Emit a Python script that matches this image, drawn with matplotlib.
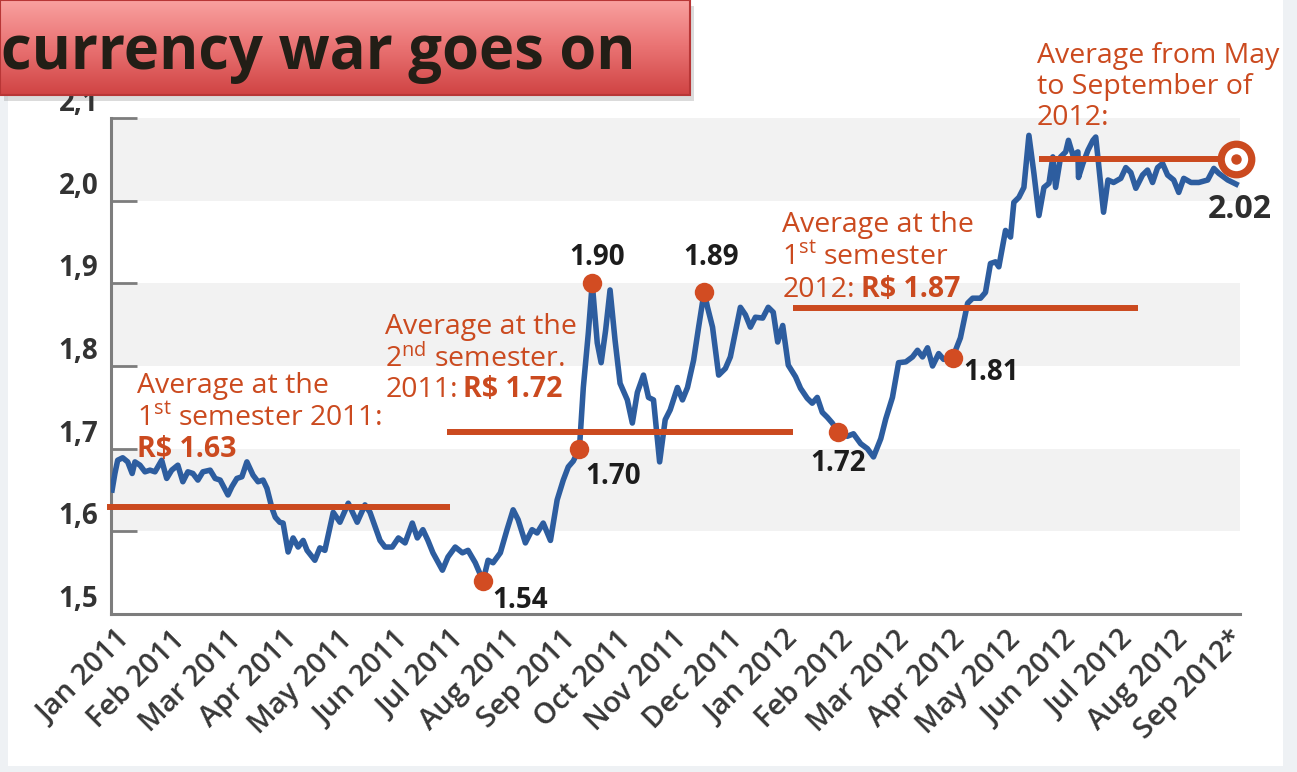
import numpy as np
import matplotlib
matplotlib.use('Agg')
import matplotlib.pyplot as plt
from matplotlib.patches import Rectangle
from matplotlib.colors import LinearSegmentedColormap

plt.rcParams['font.family'] = ['Open Sans', 'DejaVu Sans']
plt.rcParams['mathtext.fontset'] = 'custom'
plt.rcParams['mathtext.rm'] = 'Open Sans'
plt.rcParams['mathtext.it'] = 'Open Sans:italic'
plt.rcParams['mathtext.bf'] = 'Open Sans:bold'

# x = months since Jan 2011, y = R$ per US$
months = [
    -0.05, 0.00, 0.05, 0.14, 0.23, 0.31, 0.36, 0.45, 0.54, 0.63,
    0.72, 0.84, 0.93, 1.02, 1.13, 1.22, 1.31, 1.40, 1.49, 1.58,
    1.71, 1.80, 1.89, 2.03, 2.10, 2.19, 2.28, 2.37, 2.48, 2.57,
    2.66, 2.73, 2.82, 2.88, 2.96, 3.02, 3.11, 3.20, 3.29, 3.38,
    3.45, 3.59, 3.68, 3.77, 3.92, 4.04, 4.19, 4.35, 4.49, 4.58,
    4.76, 4.85, 4.98, 5.09, 5.21, 5.34, 5.43, 5.53, 5.62, 5.71,
    5.88, 5.98, 6.11, 6.24, 6.34, 6.47, 6.61, 6.70, 6.79, 6.92,
    7.04, 7.15, 7.24, 7.37, 7.49, 7.58, 7.69, 7.82, 7.94, 8.05,
    8.14, 8.23, 8.34, 8.41, 8.50, 8.57, 8.66, 8.73, 8.81, 8.89,
    8.98, 9.07, 9.20, 9.29, 9.38, 9.49, 9.58, 9.67, 9.78, 9.88,
    9.97, 10.10, 10.19, 10.28, 10.39, 10.48, 10.58, 10.64, 10.73, 10.84,
    10.96, 11.05, 11.11, 11.23, 11.32, 11.41, 11.50, 11.63, 11.73, 11.82,
    11.90, 11.99, 12.09, 12.22, 12.31, 12.43, 12.52, 12.61, 12.70, 12.79,
    12.88, 12.99, 13.15, 13.26, 13.39, 13.51, 13.62, 13.75, 13.84, 13.96,
    14.07, 14.20, 14.32, 14.41, 14.50, 14.59, 14.68, 14.79, 14.88, 15.04,
    15.18, 15.31, 15.40, 15.54, 15.63, 15.72, 15.81, 15.87, 15.94, 15.99,
    16.08, 16.14, 16.23, 16.32, 16.41, 16.50, 16.59, 16.68, 16.77, 16.84,
    16.89, 16.98, 17.07, 17.12, 17.20, 17.29, 17.30, 17.38, 17.47, 17.56,
    17.61, 17.66, 17.75, 17.83, 17.93, 18.06, 18.15, 18.24, 18.33, 18.45,
    18.54, 18.63, 18.72, 18.81, 18.90, 19.01, 19.10, 19.19, 19.32, 19.46,
    19.62, 19.73, 19.82, 19.98, 20.13,
]
usd_brl = [
    1.650, 1.670, 1.686, 1.689, 1.684, 1.670, 1.684, 1.680, 1.672, 1.674,
    1.672, 1.686, 1.664, 1.674, 1.680, 1.660, 1.672, 1.670, 1.662, 1.672,
    1.674, 1.664, 1.662, 1.644, 1.654, 1.664, 1.666, 1.684, 1.668, 1.660,
    1.662, 1.652, 1.628, 1.617, 1.611, 1.610, 1.575, 1.592, 1.581, 1.589,
    1.577, 1.565, 1.580, 1.577, 1.623, 1.611, 1.634, 1.611, 1.632, 1.623,
    1.589, 1.581, 1.581, 1.592, 1.586, 1.610, 1.592, 1.602, 1.589, 1.574,
    1.553, 1.569, 1.581, 1.574, 1.577, 1.562, 1.540, 1.565, 1.562, 1.574,
    1.602, 1.626, 1.614, 1.586, 1.602, 1.598, 1.610, 1.589, 1.638, 1.662,
    1.678, 1.685, 1.700, 1.774, 1.840, 1.900, 1.828, 1.804, 1.843, 1.892,
    1.831, 1.779, 1.759, 1.731, 1.768, 1.789, 1.762, 1.759, 1.684, 1.735,
    1.747, 1.774, 1.759, 1.774, 1.807, 1.847, 1.890, 1.871, 1.847, 1.789,
    1.797, 1.811, 1.831, 1.871, 1.862, 1.847, 1.859, 1.858, 1.871, 1.865,
    1.829, 1.849, 1.801, 1.787, 1.773, 1.761, 1.755, 1.762, 1.744, 1.738,
    1.731, 1.720, 1.715, 1.718, 1.706, 1.700, 1.690, 1.712, 1.736, 1.762,
    1.804, 1.805, 1.811, 1.819, 1.811, 1.822, 1.800, 1.815, 1.808, 1.810,
    1.834, 1.876, 1.882, 1.882, 1.889, 1.924, 1.926, 1.920, 1.946, 1.964,
    1.956, 1.998, 2.004, 2.016, 2.079, 2.033, 1.982, 2.016, 2.021, 2.053,
    2.016, 2.053, 2.059, 2.073, 2.055, 2.059, 2.028, 2.045, 2.061, 2.073,
    2.077, 2.045, 1.986, 2.025, 2.022, 2.027, 2.040, 2.034, 2.015, 2.031,
    2.037, 2.022, 2.040, 2.045, 2.031, 2.025, 2.010, 2.027, 2.022, 2.022,
    2.025, 2.039, 2.033, 2.025, 2.020,
]

month_labels = ['Jan 2011', 'Feb 2011', 'Mar 2011', 'Apr 2011', 'May 2011', 'Jun 2011',
                'Jul 2011', 'Aug 2011', 'Sep 2011', 'Oct 2011', 'Nov 2011', 'Dec 2011',
                'Jan 2012', 'Feb 2012', 'Mar 2012', 'Apr 2012', 'May 2012', 'Jun 2012',
                'Jul 2012', 'Aug 2012', 'Sep 2012*']
y_ticks = [1.5, 1.6, 1.7, 1.8, 1.9, 2.0, 2.1]
y_tick_labels = ['1,5', '1,6', '1,7', '1,8', '1,9', '2,0', '2,1']

# highlighted lows/highs and where their numbers sit
mark_months = [6.61, 8.34, 8.57, 10.58, 12.99, 15.04]
mark_values = [1.54, 1.70, 1.90, 1.89, 1.72, 1.81]
mark_label_x = [6.77, 8.45, 8.16, 10.21, 12.49, 15.24]
mark_label_y = [1.507, 1.657, 1.922, 1.922, 1.673, 1.783]

# period averages
avg_starts = [-0.14, 5.97, 12.18, 16.59]
avg_ends = [6.02, 12.17, 18.36, 20.13]
avg_values = [1.63, 1.72, 1.87, 2.05]

BLUE = '#2d5d9f'
ORANGE = '#cb4a1f'
DOT = '#d24c22'
DARK = '#1c1c1c'
GREY = '#7d7d7d'

W, H = 1297, 772
fig = plt.figure(figsize=(W / 100, H / 100), dpi=100)
fig.patch.set_facecolor('#eef1f4')
fig.patches.append(Rectangle((8 / W, 6 / H), 1275 / W, 1 - 6 / H, transform=fig.transFigure,
                             facecolor='white', edgecolor='none', zorder=-10))

ax = fig.add_axes([111 / W, (H - 614) / H, 1129 / W, 496 / H])
ax.set_facecolor('none')
ax.set_xlim(-0.07, 20.2)
ax.set_ylim(1.5, 2.1)

for lo in (1.6, 1.8, 2.0):
    ax.axhspan(lo, lo + 0.1, color='#f2f2f2', lw=0, zorder=0)

ax.plot(months, usd_brl, color=BLUE, lw=4, solid_joinstyle='round', zorder=3)
ax.hlines(avg_values, avg_starts, avg_ends, color=ORANGE, lw=4.3, zorder=4, clip_on=False)
ax.scatter(mark_months, mark_values, s=14 ** 2, color=DOT, lw=0, zorder=5, clip_on=False)
for x, y, v in zip(mark_label_x, mark_label_y, mark_values):
    ax.text(x, y, f'{v:.2f}', fontsize=20, fontweight='bold', color=DARK,
            ha='left', va='baseline', zorder=6)

# target marker at the end of the May-Sep average
ax.plot([avg_ends[3]], [avg_values[3]], 'o', ms=22, mfc='white', mec=ORANGE, mew=5.2,
        zorder=6, clip_on=False)
ax.plot([avg_ends[3]], [avg_values[3]], 'o', ms=6.5, color=ORANGE, zorder=7, clip_on=False)
ax.text(19.62, 1.979, f'{usd_brl[-1]:.2f}', fontsize=23, fontweight='bold', color='#2e2e2e',
        ha='left', va='baseline', zorder=6)


def note(x, ys, lines, tail=None):
    t = None
    for y, s in zip(ys, lines):
        t = ax.text(x, y, s, fontsize=20.5, color=ORANGE, ha='left', va='baseline', zorder=6)
    if tail:
        ax.annotate(tail, xy=(1, 0), xycoords=t, xytext=(4, 0), textcoords='offset points',
                    fontsize=20.5, fontweight='bold', color=ORANGE, ha='left', va='bottom')


note(0.395, [1.7672, 1.7273], ['Average at the', r'1$^{\mathrm{st}}$ semester 2011:'])
ax.text(0.395, 1.6898, 'R$ 1.63', fontsize=20.5, fontweight='bold', color=ORANGE,
        ha='left', va='baseline', zorder=6)
note(4.852, [1.8386, 1.7987, 1.7624],
     ['Average at the', r'2$^{\mathrm{nd}}$ semester.', '2011:'], tail='R$ 1.72')
note(11.986, [1.9619, 1.9220, 1.8833],
     ['Average at the', r'1$^{\mathrm{st}}$ semester', '2012:'], tail='R$ 1.87')
note(16.55, [2.1663, 2.1288, 2.0913], ['Average from May', 'to September of', '2012:'])

# axes styling
for side in ('top', 'right'):
    ax.spines[side].set_visible(False)
for side in ('left', 'bottom'):
    ax.spines[side].set_color(GREY)
    ax.spines[side].set_linewidth(2.2)

ax.set_yticks(y_ticks)
ax.set_yticklabels(y_tick_labels, fontsize=20, fontweight='bold', color='#333333')
ax.tick_params(axis='y', direction='in', length=19, width=2, color=GREY, pad=9)
for lab in ax.get_yticklabels():
    lab.set_verticalalignment('bottom')

ax.set_xticks(range(len(month_labels)))
ax.set_xticklabels(month_labels, fontsize=21, fontweight='semibold', color='#383838',
                   rotation=45, ha='right', rotation_mode='anchor', va='top')
ax.tick_params(axis='x', length=0, pad=8)

# title banner
tax = fig.add_axes([0, 1 - 95 / H, 690 / W, 95 / H])
tax.set_zorder(5)
cmap = LinearSegmentedColormap.from_list('banner', ['#f9a09f', '#e97272', '#d04444'])
tax.imshow(np.linspace(0, 1, 100).reshape(-1, 1), aspect='auto', cmap=cmap,
           extent=[0, 1, 0, 1])
tax.set_xlim(0, 1)
tax.set_ylim(0, 1)
tax.axis('off')
tax.add_patch(Rectangle((0, 0), 1, 1, transform=tax.transAxes, fill=False,
                        edgecolor='#b83636', lw=1.5, clip_on=False))
fig.patches.append(Rectangle((4 / W, 1 - 101 / H), 690 / W, 95 / H, transform=fig.transFigure,
                             facecolor='#9a9a9a', alpha=0.35, edgecolor='none', zorder=-1))
tax.text(0.002, 0.27, 'currency war goes on', transform=tax.transAxes, fontsize=43,
         fontweight='bold', color='#221e16', ha='left', va='baseline')

fig.savefig('out.png', dpi=100)
